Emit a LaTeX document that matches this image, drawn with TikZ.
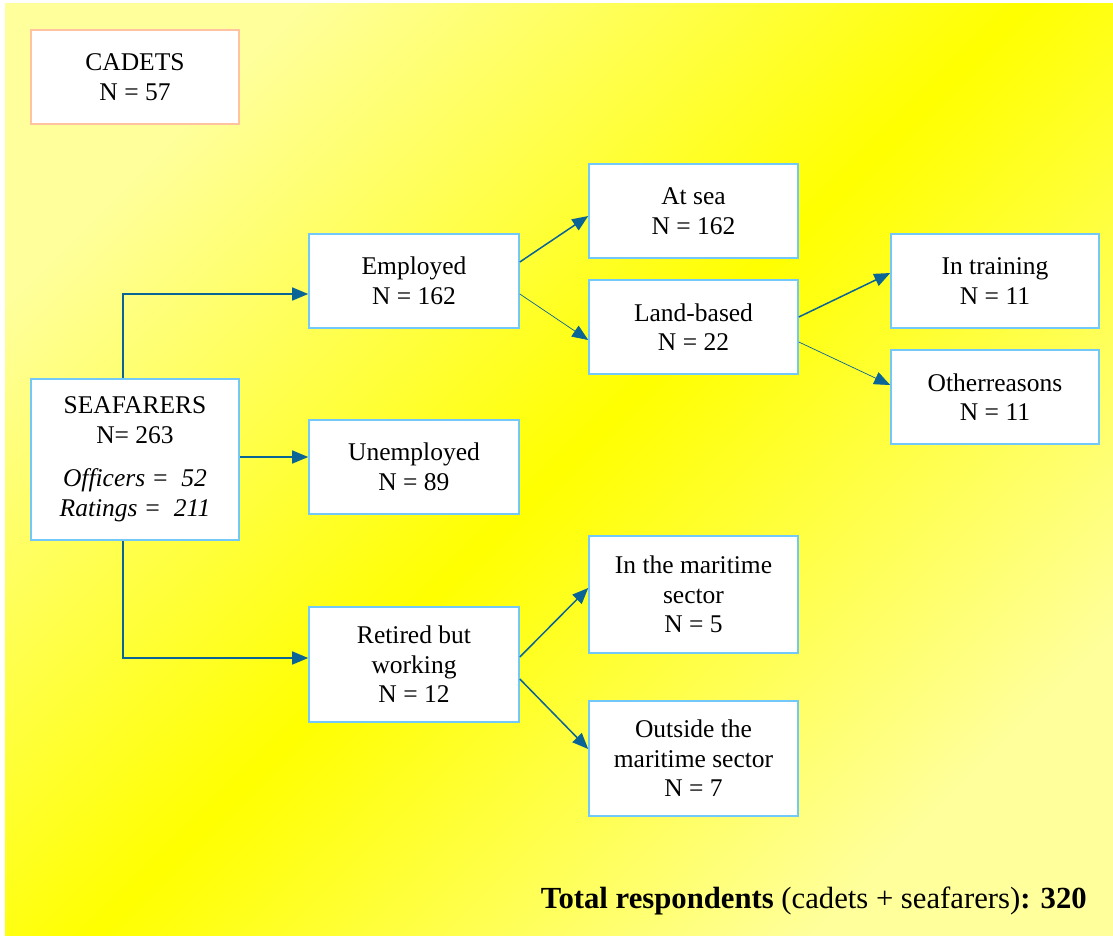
\documentclass[tikz,border=0pt]{standalone}
\usepackage{fontspec}
\setmainfont{Liberation Serif}
\usetikzlibrary{arrows.meta,calc}
\definecolor{lightyel}{RGB}{255,255,155}
\definecolor{brightyel}{RGB}{255,255,0}
\definecolor{boxblue}{RGB}{115,200,250}
\definecolor{peach}{RGB}{255,195,160}
\definecolor{arrblue}{RGB}{10,100,150}
\begin{document}
\begin{tikzpicture}[x=1pt,y=-1pt,
  box/.style={draw=boxblue,line width=1.6pt,fill=white,align=center,inner sep=0pt,
    font=\fontsize{25.5}{29.5}\selectfont},
  arr/.style={draw=arrblue,line width=1.5pt,-{Triangle[length=16pt,width=13pt]}},
  thinarr/.style={draw=arrblue,line width=0.7pt,-{Triangle[length=16pt,width=13pt]}}]
\useasboundingbox (0,0) rectangle (1113,937);
\shade[top color=lightyel,bottom color=lightyel,middle color=brightyel,shading angle=45]
  (5,3) rectangle (1113,935);
% boxes
\node[box,draw=peach,minimum width=208pt,minimum height=94pt] (cad) at (135,77) {CADETS\\N = 57};
\node[box,minimum width=208pt,minimum height=161pt] (seaf) at (135,459.5)
  {SEAFARERS\\N= 263\\[14pt]\textit{Officers =~~52}\\\textit{Ratings =~~211}};
\node[box,minimum width=210pt,minimum height=94pt] (emp) at (414,281) {Employed\\N = 162};
\node[box,minimum width=210pt,minimum height=94pt] (unemp) at (414,467) {Unemployed\\N = 89};
\node[box,minimum width=210pt,minimum height=115pt] (ret) at (414,664.5) {Retired but\\working\\N = 12};
\node[box,minimum width=209pt,minimum height=94pt] (atsea) at (693.5,211) {At sea\\N = 162};
\node[box,minimum width=209pt,minimum height=94pt] (land) at (693.5,327) {Land-based\\N = 22};
\node[box,minimum width=209pt,minimum height=117pt] (mar) at (693.5,594.5) {In the maritime\\sector\\N = 5};
\node[box,minimum width=209pt,minimum height=115pt] (out) at (693.5,758.5) {Outside the\\maritime sector\\N = 7};
\node[box,minimum width=208pt,minimum height=94pt] (train) at (995,281) {In training\\N = 11};
\node[box,minimum width=208pt,minimum height=94pt] (other) at (995,397) {Otherreasons\\N = 11};
% connectors
\draw[arr] ($(seaf.north)+(-12,0)$) |- ($(emp.west)+(0,13)$);
\draw[arr] ($(seaf.east)+(0,-2.5)$) -- ($(unemp.west)+(0,-10)$);
\draw[arr] ($(seaf.south)+(-12,0)$) |- ($(ret.west)+(0,-6.5)$);
\draw[arr] ($(emp.east)+(0,-19)$) -- ($(atsea.west)+(0,5)$);
\draw[thinarr] ($(emp.east)+(0,13)$) -- ($(land.west)+(0,13)$);
\draw[arr] ($(land.east)+(0,-10)$) -- ($(train.west)+(0,-8)$);
\draw[thinarr] ($(land.east)+(0,15)$) -- ($(other.west)+(0,-12)$);
\draw[arr] ($(ret.east)+(0,-7.5)$) -- ($(mar.west)+(0,-6.5)$);
\draw[arr] ($(ret.east)+(0,14.5)$) -- ($(out.west)+(0,-9.5)$);
% total
\node[anchor=base east,inner sep=0pt,font=\fontsize{30.7}{36}\selectfont] (total) at (1087,908)
  {\textbf{Total respondents} (cadets + seafarers)\textbf{: 320}};
\end{tikzpicture}
\end{document}
